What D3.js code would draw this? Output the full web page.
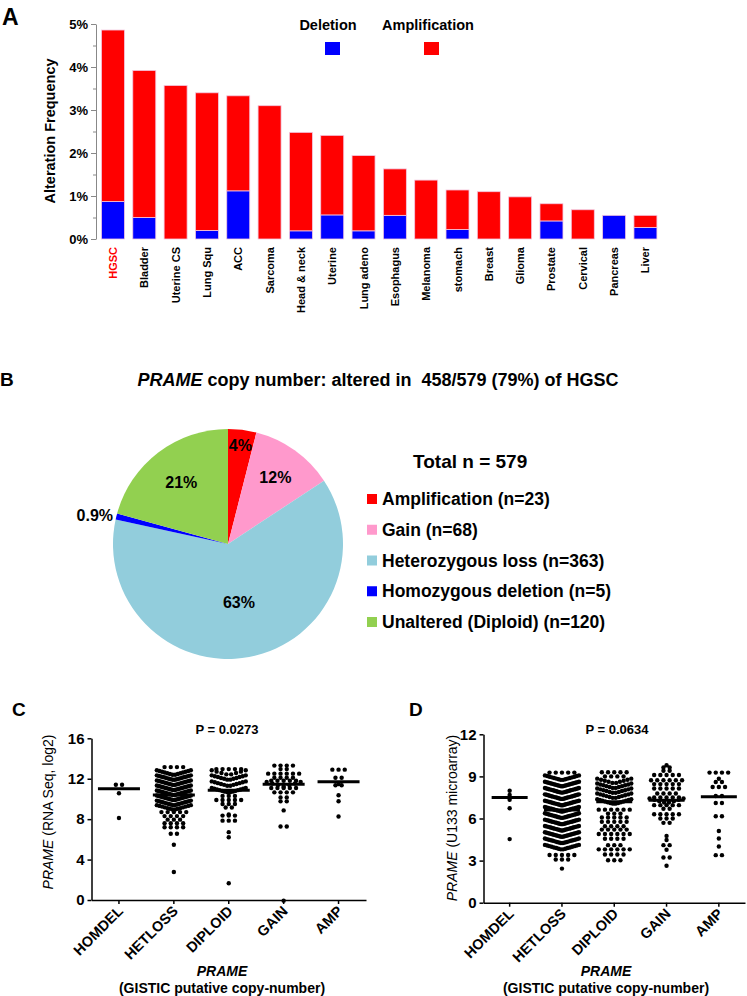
<!DOCTYPE html>
<html>
<head>
<meta charset="utf-8">
<script src="https://cdn.jsdelivr.net/npm/d3@7"></script>
<style>
  body { margin: 0; background: #fff; }
  svg text { font-family: "Liberation Sans", Arial, sans-serif; }
</style>
</head>
<body>
<div id="chart"></div>
<script>
// ---- panel A: alteration frequency per cancer type (%)
const cancerTypes = ["HGSC", "Bladder", "Uterine CS", "Lung Squ", "ACC", "Sarcoma", "Head & neck", "Uterine",
  "Lung adeno", "Esophagus", "Melanoma", "stomach", "Breast", "Glioma", "Prostate", "Cervical", "Pancreas", "Liver"];
const deletionFreq = [0.87, 0.50, 0, 0.20, 1.12, 0, 0.19, 0.56, 0.19, 0.55, 0, 0.22, 0, 0, 0.42, 0, 0.55, 0.27];
const amplificationFreq = [3.99, 3.42, 3.57, 3.20, 2.21, 3.10, 2.29, 1.85, 1.75, 1.08, 1.37, 0.92, 1.10, 0.98, 0.40, 0.68, 0, 0.28];
const freqTicks = [0, 1, 2, 3, 4, 5];
const freqMinorTicks = [0.5, 1.5, 2.5, 3.5, 4.5];

// ---- panel B: PRAME copy number in HGSC
const pieNames = ["Amplification", "Gain", "Heterozygous loss", "Homozygous deletion", "Unaltered (Diploid)"];
const pieCounts = [23, 68, 363, 5, 120];
const pieLabels = ["4%", "12%", "63%", "0.9%", "21%"];

// ---- panels C/D: expression by copy number, rows of dots as [value, count]
const cnaGroups = ["HOMDEL", "HETLOSS", "DIPLOID", "GAIN", "AMP"];

const rnaHomdel = [[11.4, 2], [10.8, 1], [8.35, 1]];
const rnaHetloss = [[13.15, 4], [12.6, 14], [12.1, 18], [11.6, 20], [11.1, 20], [10.6, 20], [10.1, 20], [9.6, 18],
  [9.15, 14], [8.7, 5], [8.3, 4], [7.95, 3], [7.6, 4], [7.2, 4], [6.55, 2], [5.7, 1], [3.0, 1]];
const rnaDiploid = [[12.95, 5], [12.6, 8], [12.1, 12], [11.5, 12], [10.85, 14], [10.3, 3], [9.9, 5], [9.5, 3],
  [9.15, 2], [8.7, 1], [8.35, 3], [7.85, 3], [6.95, 1], [6.45, 1], [1.9, 1]];
const rnaGain = [[13.3, 4], [12.95, 2], [12.5, 6], [12.1, 4], [11.8, 5], [11.45, 7], [11.08, 5], [10.65, 4],
  [10.15, 2], [9.76, 2], [9.1, 1], [7.28, 2], [0.17, 1]];
const rnaAmp = [[12.9, 3], [12.1, 2], [11.7, 1], [11.35, 2], [10.6, 1], [10.0, 1], [8.5, 1]];
const rnaMedians = [11.0, 10.4, 10.85, 11.45, 11.7];
const rnaTicks = [0, 4, 8, 12, 16];

const arrHomdel = [[8.15, 1], [7.85, 1], [7.5, 1], [6.9, 1], [4.7, 1]];
const arrHetloss = [[9.27, 5], [8.9, 16], [8.45, 20], [8.0, 22], [7.55, 22], [7.1, 22], [6.65, 22], [6.2, 22],
  [5.75, 22], [5.3, 22], [4.85, 20], [4.4, 18], [3.95, 16], [3.4, 5], [3.08, 3], [2.6, 1]];
const arrDiploid = [[9.3, 5], [9.0, 4], [8.67, 10], [8.32, 12], [7.97, 12], [7.61, 12], [7.2, 14], [6.63, 6],
  [6.35, 3], [6.07, 5], [5.76, 5], [5.45, 4], [5.21, 5], [4.9, 6], [4.56, 4], [4.1, 3], [3.8, 6], [3.44, 4], [3.03, 3]];
const arrGain = [[9.96, 1], [9.63, 2], [9.4, 2], [9.1, 5], [8.73, 6], [8.45, 5], [8.14, 5], [7.78, 4], [7.5, 5],
  [7.26, 8], [6.95, 5], [6.7, 2], [6.3, 5], [6.0, 3], [5.69, 2], [4.93, 1], [4.64, 1], [4.1, 2], [3.94, 1],
  [3.22, 2], [2.8, 1]];
const arrAmp = [[9.27, 4], [9.0, 1], [8.6, 2], [8.24, 3], [7.6, 2], [7.1, 2], [6.16, 2], [5.28, 1], [4.74, 1],
  [4.17, 1], [3.39, 2]];
const arrMedians = [7.5, 6.6, 7.2, 7.3, 7.55];
const arrTicks = [0, 3, 6, 9, 12];

const W = 747, H = 996;
const svg = d3.select("#chart").append("svg").attr("width", W).attr("height", H);

// ================= A =================
svg.append("text").attr("x", 2).attr("y", 25).attr("font-size", 23).attr("font-weight", "bold").text("A");

const xA = d3.scaleBand().domain(cancerTypes).range([97.3, 661.1]).paddingInner(0.266).paddingOuter(0.133);
const yA = d3.scaleLinear().domain([0, 5]).range([239, 24]);

const barRows = cancerTypes.map((c, i) => ({ type: c, deletion: deletionFreq[i], amplification: amplificationFreq[i] }));
const stacked = d3.stack().keys(["deletion", "amplification"])(barRows);
const barColor = { deletion: "#0000ff", amplification: "#ff0000" };

svg.append("g").selectAll("g").data(stacked).join("g")
  .attr("fill", d => barColor[d.key])
  .selectAll("rect").data(d => d.filter(s => s[1] > s[0])).join("rect")
  .attr("x", d => xA(d.data.type))
  .attr("y", d => yA(d[1]))
  .attr("width", xA.bandwidth())
  .attr("height", d => yA(d[0]) - yA(d[1]))
  .attr("stroke", "#f3c8e0").attr("stroke-width", 0.8);

const axA = svg.append("g").attr("transform", "translate(96,0)")
  .call(d3.axisLeft(yA).tickValues(freqTicks).tickFormat(d => d + "%").tickSize(5).tickSizeOuter(0).tickPadding(3));
axA.select(".domain").attr("stroke", "#888");
axA.selectAll(".tick line").attr("stroke", "#888");
axA.selectAll(".tick text").attr("font-size", 13).attr("font-weight", "bold").attr("fill", "#000");
svg.append("g").attr("transform", "translate(96,0)")
  .call(d3.axisLeft(yA).tickValues(freqMinorTicks).tickFormat("").tickSize(3).tickSizeOuter(0))
  .call(g => g.select(".domain").remove())
  .selectAll(".tick line").attr("stroke", "#888");

svg.append("text").attr("transform", "translate(55,131) rotate(-90)")
  .attr("text-anchor", "middle").attr("font-size", 14.5).attr("font-weight", "bold")
  .text("Alteration Frequency");

svg.append("g").selectAll("text").data(cancerTypes).join("text")
  .attr("transform", d => `translate(${xA(d) + xA.bandwidth() / 2 + 4},247) rotate(-90)`)
  .attr("text-anchor", "end").attr("font-size", 11).attr("font-weight", "bold")
  .attr("fill", d => d === "HGSC" ? "#ff0000" : "#000")
  .text(d => d);

// legend A
const legA = [["Deletion", "deletion", 328], ["Amplification", "amplification", 428]];
legA.forEach(([label, key, cx]) => {
  svg.append("text").attr("x", cx).attr("y", 30).attr("text-anchor", "middle")
    .attr("font-size", 14.5).attr("font-weight", "bold").text(label);
  svg.append("rect").attr("x", cx - 6 + (key === "deletion" ? 3 : 2)).attr("y", 42).attr("width", 15).attr("height", 13)
    .attr("fill", barColor[key]);
});

// ================= B =================
svg.append("text").attr("x", 0).attr("y", 386).attr("font-size", 19).attr("font-weight", "bold").text("B");
const titleB = svg.append("text").attr("x", 378).attr("y", 386).attr("text-anchor", "middle")
  .attr("font-size", 18).attr("font-weight", "bold").style("white-space", "pre");
titleB.append("tspan").attr("font-style", "italic").text("PRAME");
titleB.append("tspan").text(" copy number: altered in  458/579 (79%) of HGSC");

const pieColors = ["#ff0000", "#ff99cc", "#92cddc", "#0000ff", "#92d050"];
const R = 115;
const pieG = svg.append("g").attr("transform", "translate(228,544)");
const arcs = d3.pie().sort(null).value(d => d)(pieCounts);
const arcGen = d3.arc().innerRadius(0).outerRadius(R);
pieG.selectAll("path").data(arcs).join("path")
  .attr("d", arcGen).attr("fill", (d, i) => pieColors[i]);

const labelR = [0.86, 0.71, 0.52, 1.03, 0.67];
pieG.selectAll("text").data(arcs).join("text")
  .attr("x", (d, i) => Math.sin((d.startAngle + d.endAngle) / 2) * R * labelR[i])
  .attr("y", (d, i) => -Math.cos((d.startAngle + d.endAngle) / 2) * R * labelR[i])
  .attr("dy", "0.35em")
  .attr("text-anchor", (d, i) => labelR[i] > 1 ? "end" : "middle")
  .attr("font-size", 16).attr("font-weight", "bold")
  .text((d, i) => pieLabels[i]);

svg.append("text").attr("x", 413).attr("y", 468).attr("font-size", 19).attr("font-weight", "bold")
  .text("Total n = " + d3.sum(pieCounts));
const legB = svg.append("g").attr("transform", "translate(367,0)");
const legRowY = d3.scalePoint().domain(pieNames).range([499, 622]);
legB.selectAll("rect").data(pieNames).join("rect")
  .attr("x", 0).attr("y", d => legRowY(d) - 5).attr("width", 10).attr("height", 10)
  .attr("fill", (d, i) => pieColors[i]);
legB.selectAll("text").data(pieNames).join("text")
  .attr("x", 15).attr("y", d => legRowY(d) + 6)
  .attr("font-size", 17.5).attr("font-weight", "bold")
  .text((d, i) => `${d} (n=${pieCounts[i]})`);

// ================= C / D =================
function dotPanel(opt) {
  const g = svg.append("g");
  const x = d3.scaleBand().domain(cnaGroups).range(opt.xRange);
  const y = d3.scaleLinear().domain([0, opt.max]).range(opt.yRange);

  g.append("text").attr("x", opt.letterX).attr("y", 716).attr("font-size", 19).attr("font-weight", "bold").text(opt.letter);
  g.append("text").attr("x", opt.pX).attr("y", 734).attr("text-anchor", "middle")
    .attr("font-size", 13).attr("font-weight", "bold").text(opt.pText);

  const ay = g.append("g").attr("transform", `translate(${opt.xRange[0]},0)`)
    .call(d3.axisLeft(y).tickValues(opt.ticks).tickSize(4).tickSizeOuter(0).tickPadding(3));
  ay.selectAll("path, line").attr("stroke", "#000").attr("stroke-width", 1.5);
  ay.selectAll(".tick text").attr("font-size", 15).attr("font-weight", "bold").attr("fill", "#000");

  const ax = g.append("g").attr("transform", `translate(0,${opt.yRange[0]})`)
    .call(d3.axisBottom(x).tickSize(4).tickSizeOuter(0));
  ax.selectAll("path, line").attr("stroke", "#000").attr("stroke-width", 1.5);
  ax.selectAll(".tick text")
    .attr("font-size", 14.5).attr("font-weight", "bold").attr("fill", "#000")
    .attr("text-anchor", "end").attr("dy", null).attr("x", 0).attr("y", 0)
    .attr("transform", "translate(5,12) rotate(-45)");

  const yl = g.append("text")
    .attr("transform", `translate(${opt.yLabelX},${opt.yLabelY}) rotate(-90)`)
    .attr("text-anchor", "middle").attr("font-size", 14);
  yl.append("tspan").attr("font-style", "italic").text("PRAME");
  yl.append("tspan").text(opt.yLabel);

  g.append("text").attr("x", opt.xTitleX).attr("y", 976).attr("text-anchor", "middle")
    .attr("font-size", 14).attr("font-weight", "bold").attr("font-style", "italic").text("PRAME");
  g.append("text").attr("x", opt.xTitleX).attr("y", 993).attr("text-anchor", "middle")
    .attr("font-size", 14).attr("font-weight", "bold").text("(GISTIC putative copy-number)");

  const spacing = 6.2, half = 17;
  cnaGroups.forEach((grp, gi) => {
    const cx = x(grp) + x.bandwidth() / 2;
    const dots = [];
    opt.rows[gi].forEach(([v, n]) => {
      const sp = n > 1 ? Math.min(spacing, 2 * half / (n - 1)) : 0;
      for (let i = 0; i < n; i++) {
        const dx = (i - (n - 1) / 2) * sp;
        const dy = sp < spacing ? (half / 2 - Math.abs(dx)) * 0.28 : 0;
        dots.push([cx + dx, y(v) + dy]);
      }
    });
    g.append("g").selectAll("circle").data(dots).join("circle")
      .attr("cx", d => d[0]).attr("cy", d => d[1]).attr("r", 2.2).attr("fill", "#000");
    g.append("line")
      .attr("x1", cx - opt.medHalf).attr("x2", cx + opt.medHalf)
      .attr("y1", y(opt.medians[gi])).attr("y2", y(opt.medians[gi]))
      .attr("stroke", "#000").attr("stroke-width", 3);
  });
}

dotPanel({
  letter: "C", letterX: 12, pText: "P = 0.0273", pX: 227,
  xRange: [91.5, 366], yRange: [900, 738.3], max: 16, ticks: rnaTicks,
  yLabel: " (RNA Seq, log2)", yLabelX: 53, yLabelY: 812,
  xTitleX: 222, medHalf: 21,
  rows: [rnaHomdel, rnaHetloss, rnaDiploid, rnaGain, rnaAmp], medians: rnaMedians
});

dotPanel({
  letter: "D", letterX: 409, pText: "P = 0.0634", pX: 617,
  xRange: [483.5, 745], yRange: [902.7, 734.3], max: 12, ticks: arrTicks,
  yLabel: " (U133 microarray)", yLabelX: 457, yLabelY: 818,
  xTitleX: 606, medHalf: 18,
  rows: [arrHomdel, arrHetloss, arrDiploid, arrGain, arrAmp], medians: arrMedians
});
</script>
</body>
</html>
